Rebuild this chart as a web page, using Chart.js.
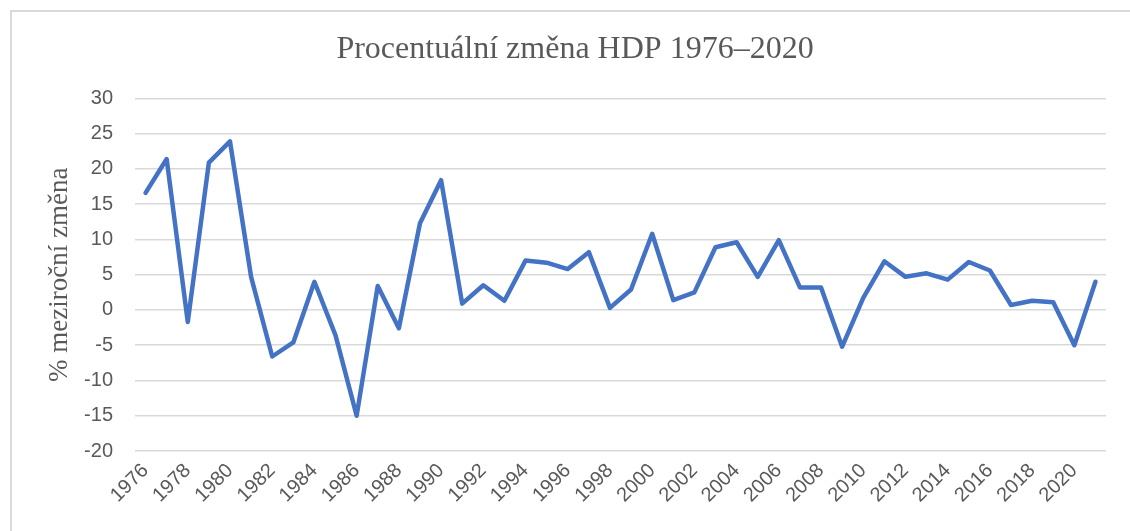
<!DOCTYPE html>
<html>
<head>
<meta charset="utf-8">
<script src="https://cdn.jsdelivr.net/npm/chart.js@4.4.0/dist/chart.umd.min.js"></script>
<style>
  html, body { margin: 0; padding: 0; background: #fff; overflow: hidden; }
  #wrap { position: absolute; left: 0; top: 0; width: 1130px; height: 531px; }
</style>
</head>
<body>
<div id="wrap"><canvas id="chart" width="1130" height="531"></canvas></div>
<script>
// roky 1976-2021
var years = ['1976', '1977', '1978', '1979', '1980', '1981', '1982', '1983', '1984', '1985',
    '1986', '1987', '1988', '1989', '1990', '1991', '1992', '1993', '1994', '1995',
    '1996', '1997', '1998', '1999', '2000', '2001', '2002', '2003', '2004', '2005',
    '2006', '2007', '2008', '2009', '2010', '2011', '2012', '2013', '2014', '2015',
    '2016', '2017', '2018', '2019', '2020', '2021'];

// % mezirocni zmena HDP
var gdpChange = [16.6, 21.4, -1.7, 20.9, 23.9, 4.7, -6.6, -4.6, 4.0, -3.6,
    -15.0, 3.4, -2.6, 12.3, 18.4, 0.9, 3.5, 1.3, 7.0, 6.7,
    5.8, 8.2, 0.3, 2.9, 10.8, 1.4, 2.5, 8.9, 9.6, 4.7,
    9.9, 3.2, 3.2, -5.2, 1.7, 6.9, 4.7, 5.2, 4.3, 6.8,
    5.6, 0.7, 1.3, 1.1, -5.0, 4.0];

var yMin = -20;
var yMax = 30;
var yStep = 5;

var textColor = '#595959';
var gridColor = '#d9d9d9';

// ramecek grafu (jen levy a horni okraj jsou videt)
var framePlugin = {
    id: 'frame',
    beforeDraw: function (c) {
        var ctx = c.ctx;
        ctx.save();
        ctx.strokeStyle = '#d9d9d9';
        ctx.lineWidth = 2;
        ctx.beginPath();
        ctx.moveTo(11, 540);
        ctx.lineTo(11, 11);
        ctx.lineTo(1140, 11);
        ctx.stroke();
        ctx.restore();
    }
};

var chart = new Chart(document.getElementById('chart'), {
    type: 'line',
    data: {
        labels: years,
        datasets: [{
            label: 'HDP',
            data: gdpChange,
            borderColor: '#4472c4',
            borderWidth: 4.5,
            borderCapStyle: 'round',
            borderJoinStyle: 'round',
            pointRadius: 0,
            tension: 0,
            fill: false
        }]
    },
    plugins: [framePlugin],
    options: {
        responsive: false,
        animation: false,
        layout: {
            padding: { left: 20, right: 0, top: 0, bottom: 0 }
        },
        plugins: {
            legend: { display: false },
            tooltip: { enabled: false },
            title: {
                display: true,
                text: 'Procentuální změna HDP 1976–2020',
                color: textColor,
                font: { family: '"Liberation Serif", "DejaVu Serif", serif', size: 32, weight: 'normal' },
                padding: { top: 30, bottom: 30 }
            }
        },
        scales: {
            x: {
                offset: true,
                grid: { display: false, drawTicks: false },
                border: { display: false },
                ticks: {
                    autoSkip: false,
                    minRotation: 45,
                    maxRotation: 45,
                    padding: 8,
                    color: textColor,
                    font: { family: '"Liberation Sans", Arial, sans-serif', size: 20 },
                    callback: function (value, index) {
                        return index % 2 === 0 ? this.getLabelForValue(value) : '';
                    }
                },
                afterFit: function (scale) {
                    scale.height = 80;
                }
            },
            y: {
                min: yMin,
                max: yMax,
                grid: { color: gridColor, lineWidth: 1.5, drawTicks: false },
                border: { display: false },
                ticks: {
                    stepSize: yStep,
                    padding: 22,
                    color: textColor,
                    font: { family: '"Liberation Sans", Arial, sans-serif', size: 20 }
                },
                title: {
                    display: true,
                    text: '% meziroční změna',
                    color: textColor,
                    font: { family: '"Liberation Serif", "DejaVu Serif", serif', size: 27, weight: 'normal' },
                    padding: { top: 24, bottom: 0 }
                },
                afterFit: function (scale) {
                    scale.width = 115;
                }
            },
            // prazdna osa vpravo jen kvuli okraji
            yRight: {
                position: 'right',
                grid: { display: false, drawTicks: false },
                border: { display: false },
                ticks: { display: false },
                afterFit: function (scale) {
                    scale.width = 24;
                }
            }
        }
    }
});
</script>
</body>
</html>
